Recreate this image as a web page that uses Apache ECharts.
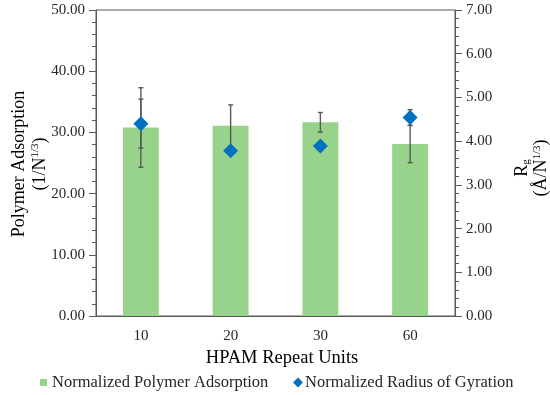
<!DOCTYPE html>
<html>
<head>
<meta charset="utf-8">
<script src="https://cdn.jsdelivr.net/npm/echarts@6/dist/echarts.min.js"></script>
<style>html,body{margin:0;padding:0;background:#fff}#c{width:550px;height:395px}</style>
</head>
<body>
<div id="c"></div>
<script>
var categories = ['10', '20', '30', '60'];
var adsorption = [30.8, 31.1, 31.65, 28.1];
var adsorptionErr = [6.5, 3.4, 1.6, 3.05];
var rg = [4.40, 3.78, 3.89, 4.54];
var rgErr = [0.56, 0.08, 0.08, 0.18];
var leftTicks = [0, 10, 20, 30, 40, 50];
var rightTicks = [0, 1, 2, 3, 4, 5, 6, 7];

var FONT = '"Liberation Serif", "Times New Roman", "DejaVu Serif", serif';
var chart = echarts.init(document.getElementById('c'), null, {renderer: 'canvas'});

function errRender(values, errs) {
  return function (params, api) {
    var i = api.value(0);
    var v = values[i], e = errs[i];
    var top = api.coord([i, v + e]);
    var bot = api.coord([i, v - e]);
    var x = top[0], hw = 2.5;
    var st = {stroke: '#595959', lineWidth: 1.4};
    return {
      type: 'group',
      children: [
        {type: 'line', shape: {x1: x, y1: top[1], x2: x, y2: bot[1]}, style: st},
        {type: 'line', shape: {x1: x - hw, y1: top[1], x2: x + hw, y2: top[1]}, style: st},
        {type: 'line', shape: {x1: x - hw, y1: bot[1], x2: x + hw, y2: bot[1]}, style: st}
      ]
    };
  };
}

var idx = categories.map(function (c, i) { return [i, 0]; });

var option = {
  animation: false,
  textStyle: {fontFamily: FONT},
  grid: {left: 96, right: 95, top: 10, bottom: 79, show: true, borderColor: '#595959', borderWidth: 1},
  legend: [
    {
      data: [{name: 'Normalized Polymer Adsorption', icon: 'rect'}],
      left: 40, top: 374, itemWidth: 7, itemHeight: 7, padding: 0,
      textStyle: {fontFamily: FONT, fontSize: 16.5, color: '#262626'}
    },
    {
      data: [{name: 'Normalized Radius of Gyration', icon: 'diamond'}],
      left: 293, top: 374, itemWidth: 10, itemHeight: 10, padding: 0,
      textStyle: {fontFamily: FONT, fontSize: 16.5, color: '#262626', padding: [0, 0, 0, -3]}
    }
  ],
  xAxis: {
    type: 'category', data: categories,
    axisLine: {lineStyle: {color: '#595959'}},
    axisTick: {show: false},
    axisLabel: {fontFamily: FONT, fontSize: 15, color: '#262626', margin: 13},
    name: 'HPAM Repeat Units', nameLocation: 'middle', nameGap: 29,
    nameTextStyle: {fontFamily: FONT, fontSize: 18.5, color: '#000', padding: [0, 0, 0, 13]}
  },
  yAxis: [
    {
      type: 'value', min: leftTicks[0], max: leftTicks[leftTicks.length - 1], interval: 10,
      axisLine: {show: true, lineStyle: {color: '#595959'}},
      axisTick: {show: true, length: 7, lineStyle: {color: '#595959'}},
      minorTick: {show: true, splitNumber: 5, length: 4, lineStyle: {color: '#595959'}},
      splitLine: {show: false},
      axisLabel: {fontFamily: FONT, fontSize: 15, color: '#262626', margin: 11,
        formatter: function (v) { return v.toFixed(2); }}
    },
    {
      type: 'value', min: rightTicks[0], max: rightTicks[rightTicks.length - 1], interval: 1,
      position: 'right',
      axisLine: {show: true, lineStyle: {color: '#595959'}},
      axisTick: {show: true, length: 7, lineStyle: {color: '#595959'}},
      minorTick: {show: true, splitNumber: 5, length: 4, lineStyle: {color: '#595959'}},
      splitLine: {show: false},
      axisLabel: {fontFamily: FONT, fontSize: 15, color: '#262626', margin: 11,
        formatter: function (v) { return v.toFixed(2); }}
    }
  ],
  graphic: [
    {
      type: 'text', x: 30, y: 164, rotation: Math.PI / 2,
      style: {
        text: '{a|Polymer Adsorption}\n{a|(1/N}{s|1/3}{a|)}',
        align: 'center', verticalAlign: 'middle',
        rich: {
          a: {fontFamily: FONT, fontSize: 18, lineHeight: 21, fill: '#000'},
          s: {fontFamily: FONT, fontSize: 11, lineHeight: 21, verticalAlign: 'top', fill: '#000', padding: [0, 0, 6, 0]}
        }
      }
    },
    {
      type: 'text', x: 532, y: 168, rotation: Math.PI / 2,
      style: {
        text: '{a|R}{b|g}\n{a|(Å/N}{s|1/3}{a|)}',
        align: 'center', verticalAlign: 'middle',
        rich: {
          a: {fontFamily: FONT, fontSize: 18, lineHeight: 19, fill: '#000'},
          b: {fontFamily: FONT, fontSize: 11, lineHeight: 19, verticalAlign: 'bottom', fill: '#000'},
          s: {fontFamily: FONT, fontSize: 11, lineHeight: 19, verticalAlign: 'top', fill: '#000', padding: [0, 0, 6, 0]}
        }
      }
    }
  ],
  series: [
    {
      name: 'Normalized Polymer Adsorption', type: 'bar', data: adsorption,
      barWidth: '40%', itemStyle: {color: '#97D38A'}, z: 2
    },
    {
      name: 'adsErr', type: 'custom', yAxisIndex: 0, data: idx,
      renderItem: errRender(adsorption, adsorptionErr), z: 3, silent: true
    },
    {
      name: 'rgErr', type: 'custom', yAxisIndex: 1, data: idx,
      renderItem: errRender(rg, rgErr), z: 3, silent: true
    },
    {
      name: 'Normalized Radius of Gyration', type: 'scatter', yAxisIndex: 1, data: rg,
      symbol: 'diamond', symbolSize: 15, itemStyle: {color: '#0070C0', opacity: 1}, z: 4
    }
  ]
};
chart.setOption(option);
</script>
</body>
</html>
